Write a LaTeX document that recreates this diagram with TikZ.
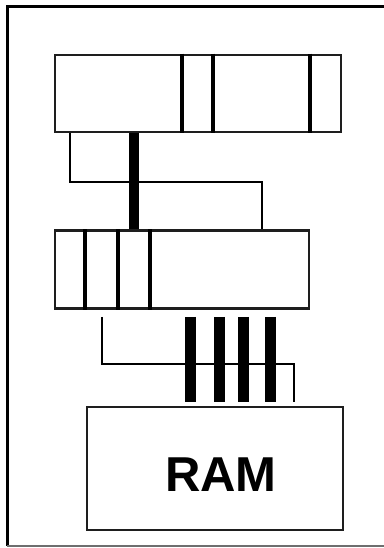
\documentclass[tikz,border=0pt]{standalone}
\usepackage{fontspec}
\setmainfont{Liberation Sans}
\usepackage{tikz}
\usetikzlibrary{positioning, calc}
\definecolor{edge}{RGB}{30, 30, 30}
\definecolor{rim}{RGB}{110, 110, 110}

\tikzset{
    unit/.style={draw=edge, line width=2.5pt, fill=white, inner sep=0pt},
    divider/.style={line width=4.5pt, black},
    wire/.style={line width=2.5pt, black},
    bus/.style={line width=10.5pt, black}
}

\begin{document}
\begin{tikzpicture}[x=1pt, y=-1pt]
        \useasboundingbox (0,0) rectangle (383,548);
        % frame
        \draw[line width=3pt, black] (7,546) -- (7,7) -- (384,7);
        \draw[line width=1.5pt, rim] (7,546) -- (384,546);
        % top unit
        \node[unit, minimum width=286pt, minimum height=77pt] (cache) at (198,93.5) {};
        \foreach \x in {182, 213, 310}
            \draw[divider] (cache.north -| \x,0) -- (cache.south -| \x,0);
        % middle unit
        \node[unit, minimum width=254pt, minimum height=78pt] (regs) at (182,269.5) {};
        \foreach \x in {85, 118, 150}
            \draw[divider] (regs.north -| \x,0) -- (regs.south -| \x,0);
        % memory
        \node[unit, minimum width=256pt, minimum height=123pt] (ram) at (215,468.5) {};
        \node[font=\bfseries\fontsize{49}{49}\selectfont] (ramlbl) at (221,475) {RAM};
        % links top -> middle
        \draw[wire] (cache.south -| 70,0) |- (262,182) -- (regs.north -| 262,0);
        \draw[bus] (cache.south -| 134,0) -- (regs.north -| 134,0);
        % links middle -> memory
        \coordinate (t1) at ([yshift=-7pt]regs.south -| 102,0);
        \coordinate (t2) at ([yshift=4pt]ram.north -| 294,0);
        \draw[wire] (t1) |- (t2 |- 0,364) -- (t2);
        \foreach \x in {190.5, 219.5, 243.5, 270.5}
            \draw[bus] (t1 -| \x,0) -- (t2 -| \x,0);
    \end{tikzpicture}
\end{document}
